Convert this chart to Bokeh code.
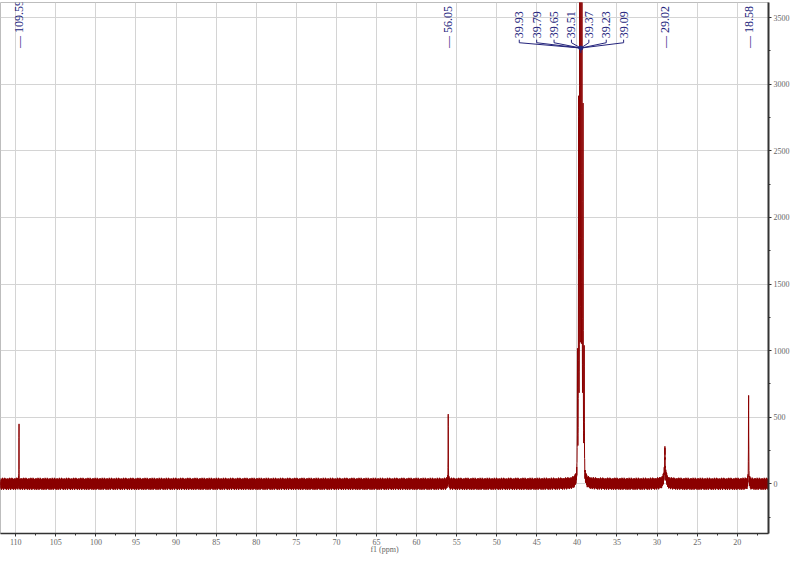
import numpy as np
from bokeh.plotting import figure
from bokeh.models import Range1d, SingleIntervalTicker
from bokeh.core.properties import value
from bokeh.embed import file_html
from bokeh.resources import INLINE

# ---- data ----
single_ppm = [109.59, 56.05, 29.02, 18.58]
single_labels = ["109.59", "56.05", "29.02", "18.58"]

dmso_ppm = [39.93, 39.79, 39.65, 39.51, 39.37, 39.23, 39.09]
dmso_labels = ["39.93", "39.79", "39.65", "39.51", "39.37", "39.23", "39.09"]
dmso_height = [900, 2700, 5600, 7000, 5600, 2700, 900]
dmso_hwhm = [0.02, 0.02, 0.02, 0.02, 0.02, 0.02, 0.02]

peak_ppm = [109.59, 109.56, 56.05, 29.02, 29.02, 18.58]
peak_height = [470, -110, 550, 150, 105, 670]
peak_hwhm = [0.015, 0.015, 0.015, 0.02, 0.15, 0.02]

noise_amp = 45
noise_pattern = [0.3, -0.8, 0.6, -0.2, 0.9, -0.6, 0.1, -1.0, 0.7, -0.4, 0.5, -0.9,
                 0.2, -0.3, 0.8, -0.7, 0.4, -0.1, 1.0, -0.5, 0.6, -0.8, 0.3, -0.6,
                 0.9, -0.2, 0.5, -1.0, 0.1, -0.4, 0.7, -0.9, 0.2, -0.7, 0.8, -0.3,
                 0.4, -0.6, 1.0, -0.1, 0.6, -0.8, 0.3, -0.5, 0.9, -0.4, 0.2, -0.9,
                 0.7, -0.2, 0.5, -0.7, 0.1, -0.6, 0.8, -1.0, 0.4, -0.3, 0.6, -0.5,
                 0.9, -0.8, 0.2, -0.4, 0.7]

x_label = "f1 (ppm)"
x_lo, x_hi = 16.1, 111.9
y_lo, y_hi = -373, 3614

# ---- build the spectrum trace from the peak table ----
grid = np.linspace(x_hi, x_lo, 7000)
centers = np.array(peak_ppm + dmso_ppm)
ppm = np.sort(np.concatenate([grid, centers]))[::-1]
all_h = np.array(peak_height + dmso_height, dtype=float)
all_w = np.array(peak_hwhm + dmso_hwhm, dtype=float)
inten = np.zeros_like(ppm)
for c, h, w in zip(centers, all_h, all_w):
    inten += h * w * w / ((ppm - c) ** 2 + w * w)
pat = np.array(noise_pattern)
inten += noise_amp * pat[np.arange(len(ppm)) % len(pat)]

p = figure(width=792, height=556, output_backend="svg", toolbar_location=None,
           x_range=Range1d(x_hi, x_lo), y_range=Range1d(y_lo, y_hi),
           y_axis_location="right",
           min_border_left=0, min_border_top=2, min_border_right=0, min_border_bottom=0)
p.background_fill_color = "white"
p.outline_line_color = "#bdbdbd"

p.xaxis.ticker = SingleIntervalTicker(interval=5, num_minor_ticks=2)
p.yaxis.ticker = SingleIntervalTicker(interval=500, num_minor_ticks=2)
p.xgrid.ticker = SingleIntervalTicker(interval=5)
p.ygrid.ticker = SingleIntervalTicker(interval=500)
p.grid.grid_line_color = "#d4d4d4"
p.grid.grid_line_width = 1

for ax in (p.xaxis[0], p.yaxis[0]):
    ax.major_label_text_font = "Liberation Serif"
    ax.major_label_text_font_size = "8px"
    ax.major_label_text_color = "#666666"
    ax.major_tick_in = 0
    ax.major_tick_out = 3
    ax.minor_tick_in = 0
    ax.minor_tick_out = 2
    ax.major_tick_line_color = "#333333"
    ax.minor_tick_line_color = "#333333"
    ax.axis_line_color = "#333333"
    ax.major_label_standoff = 2
p.xaxis.axis_line_width = 1.5
p.yaxis.axis_line_width = 2
p.xaxis.axis_label = x_label
p.xaxis.axis_label_text_font = "Liberation Serif"
p.xaxis.axis_label_text_font_size = "8px"
p.xaxis.axis_label_text_font_style = "normal"
p.xaxis.axis_label_text_color = "#666666"
p.xaxis.axis_label_standoff = -3

p.line(ppm, inten, line_color="#8b0000", line_width=1)

navy = "#24247c"
# single peak labels
p.text(x=single_ppm, y=[3272] * len(single_ppm),
       text=["\u2014 " + s for s in single_labels],
       angle=np.pi / 2, text_align="left", text_baseline="middle",
       text_font=value("Liberation Serif"), text_font_size="12px", text_color=navy)

# DMSO multiplet labels with bracket
lab_center = 40.68
lab_step = 2.17
n = len(dmso_labels)
lab_x = [lab_center + ((n - 1) / 2 - i) * lab_step for i in range(n)]
p.text(x=lab_x, y=[3345] * n, text=dmso_labels,
       angle=np.pi / 2, text_align="left", text_baseline="middle",
       text_font=value("Liberation Serif"), text_font_size="12px", text_color=navy)
conv_x = dmso_ppm[3]
xs = [[lx, lx, conv_x] for lx in lab_x]
ys = [[3335, 3312, 3272] for _ in lab_x]
p.multi_line(xs, ys, line_color=navy, line_width=1)
p.segment(x0=[conv_x], y0=[3272], x1=[conv_x], y1=[3235], line_color=navy, line_width=1)
p.scatter(x=[conv_x], y=[3272], size=4, color=navy)

open("out.html", "w").write(file_html(p, INLINE))
